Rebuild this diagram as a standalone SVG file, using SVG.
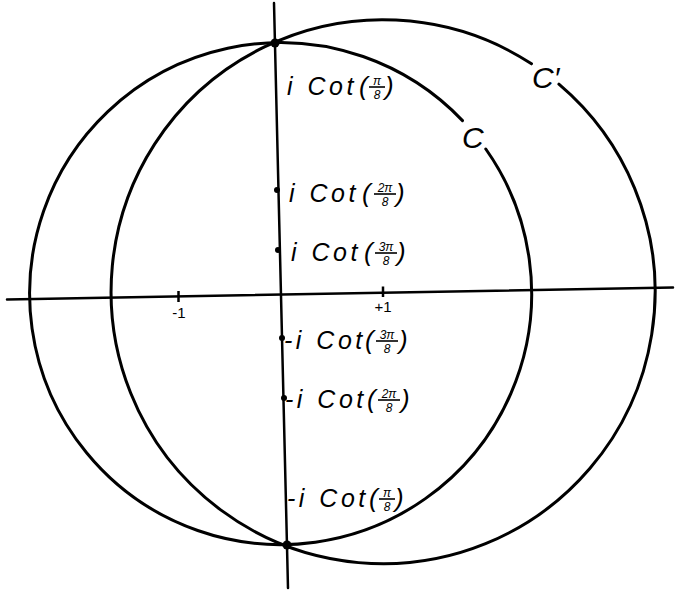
<svg xmlns="http://www.w3.org/2000/svg" width="676" height="591" viewBox="0 0 676 591">
<style>
.crv{fill:none;stroke:#000;stroke-width:3;stroke-linecap:round}
.ax{fill:none;stroke:#000;stroke-width:2.5;stroke-linecap:round}
.tk{fill:none;stroke:#000;stroke-width:2.5}
.lbl{font-family:"Liberation Sans","DejaVu Sans",sans-serif;font-style:italic;font-size:25px;letter-spacing:3.5px;word-spacing:1px;fill:#000}
.par{font-family:"Liberation Sans","DejaVu Sans",sans-serif;font-style:italic;font-size:26px;fill:#000}
.fr{font-family:"Liberation Sans","DejaVu Sans",sans-serif;font-style:italic;font-size:12px;fill:#000;text-anchor:middle}
.fl{stroke:#000;stroke-width:1.6}
.num{font-family:"Liberation Sans","DejaVu Sans",sans-serif;font-size:15px;fill:#000;text-anchor:middle}
.big{font-family:"Liberation Sans","DejaVu Sans",sans-serif;font-style:italic;font-size:30px;fill:#000}
</style>
<rect width="676" height="591" fill="#fff"/>
<g id="connectors">
  <line class="ax" x1="7" y1="299.5" x2="673" y2="287.5"/>
  <line class="ax" x1="274" y1="3" x2="288" y2="588"/>
</g>
<g id="circle-C">
  <path class="crv" d="M 485.8 149 A 251 251 0 1 1 462.5 120.6"/>
  <text class="big" x="462" y="148">C</text>
</g>
<g id="circle-Cprime">
  <path class="crv" d="M 558.9 84.2 A 272 272 0 1 1 531.5 63.8"/>
  <text class="big" x="532" y="88">C′</text>
</g>
<g id="tick-minus1">
  <line class="tk" x1="178.5" y1="291" x2="178.5" y2="302"/>
  <text class="num" x="179" y="318">-1</text>
</g>
<g id="tick-plus1">
  <line class="tk" x1="383" y1="286.5" x2="383" y2="297"/>
  <text class="num" x="383" y="312">+1</text>
</g>
<g id="point-top">
  <circle cx="275" cy="43" r="4.5" fill="#000"/>
</g>
<g id="point-bottom">
  <circle cx="287" cy="545" r="4.5" fill="#000"/>
</g>
<g id="label-1">
  <text class="lbl" x="287" y="95">i Cot</text>
  <text class="par" x="359" y="95">(</text>
  <text class="fr" x="377" y="84.5">π</text>
  <line class="fl" x1="369" y1="87" x2="385" y2="87"/>
  <text class="fr" x="377" y="98.5">8</text>
  <text class="par" x="385" y="95">)</text>
</g>
<g id="label-2">
  <circle cx="277" cy="190" r="3" fill="#000"/>
  <text class="lbl" x="289" y="202">i Cot</text>
  <text class="par" x="362" y="202">(</text>
  <text class="fr" x="385" y="191.5">2π</text>
  <line class="fl" x1="374" y1="194" x2="396" y2="194"/>
  <text class="fr" x="385" y="205.5">8</text>
  <text class="par" x="396" y="202">)</text>
</g>
<g id="label-3">
  <circle cx="278" cy="250" r="3" fill="#000"/>
  <text class="lbl" x="291" y="261">i Cot</text>
  <text class="par" x="364" y="261">(</text>
  <text class="fr" x="386" y="250.5">3π</text>
  <line class="fl" x1="375" y1="253" x2="397" y2="253"/>
  <text class="fr" x="386" y="264.5">8</text>
  <text class="par" x="397" y="261">)</text>
</g>
<g id="label-4">
  <circle cx="282" cy="338" r="3" fill="#000"/>
  <text class="lbl" x="284" y="349">-i Cot</text>
  <text class="par" x="365" y="349">(</text>
  <text class="fr" x="387" y="338.5">3π</text>
  <line class="fl" x1="376" y1="341" x2="398" y2="341"/>
  <text class="fr" x="387" y="352.5">8</text>
  <text class="par" x="399" y="349">)</text>
</g>
<g id="label-5">
  <circle cx="284" cy="398" r="3" fill="#000"/>
  <text class="lbl" x="285" y="408">-i Cot</text>
  <text class="par" x="367" y="408">(</text>
  <text class="fr" x="389" y="397.5">2π</text>
  <line class="fl" x1="378" y1="400" x2="400" y2="400"/>
  <text class="fr" x="389" y="411.5">8</text>
  <text class="par" x="401" y="408">)</text>
</g>
<g id="label-6">
  <text class="lbl" x="287" y="507">-i Cot</text>
  <text class="par" x="369" y="507">(</text>
  <text class="fr" x="387" y="496.5">π</text>
  <line class="fl" x1="379" y1="499" x2="395" y2="499"/>
  <text class="fr" x="387" y="510.5">8</text>
  <text class="par" x="395" y="507">)</text>
</g>
</svg>
